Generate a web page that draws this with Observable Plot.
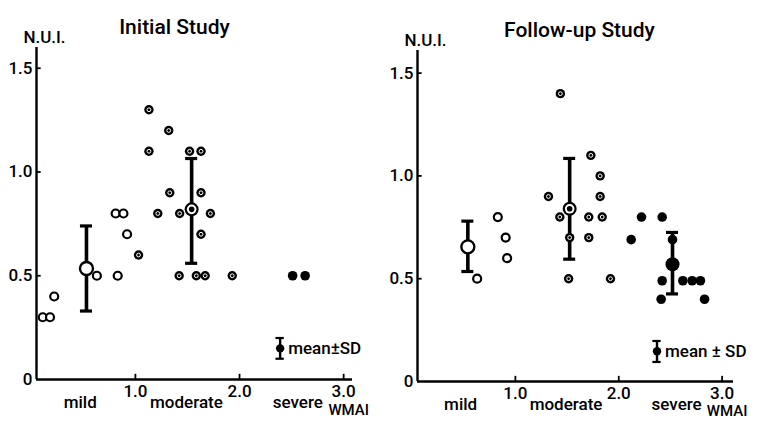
<!DOCTYPE html>
<html>
<head>
<meta charset="utf-8">
<script src="https://cdn.jsdelivr.net/npm/d3@7"></script>
<script src="https://cdn.jsdelivr.net/npm/@observablehq/plot@0.6"></script>
<style>
  html, body { margin: 0; padding: 0; background: #fff; }
  #wrap { display: flex; width: 761px; height: 421px; }
  svg { font-family: Roboto, "DejaVu Sans", sans-serif; }
</style>
</head>
<body>
<div id="wrap"></div>
<script>
// ---------- data ----------
const panelTitles = ["Initial Study", "Follow-up Study"];
const yLabel = "N.U.I.";
const xTicks = [1, 2, 3];
const yTicks = [0, 0.5, 1.0, 1.5];
const yTickLabels = ["0", "0.5", "1.0", "1.5"];
const categoryNames = ["mild", "moderate", "severe"];
const categoryX = [0.47, 1.49, 2.56];
const xAxisName = "WMAI";
const legendTexts = ["mean±SD", "mean ± SD"];

// Initial study: WMAI (x) and NUI (y)
const initMildX = [0.11, 0.18, 0.22, 0.63, 0.81, 0.885, 0.83, 0.92];
const initMildY = [0.30, 0.30, 0.40, 0.50, 0.80, 0.80, 0.50, 0.70];
const initModX = [1.03, 1.13, 1.32, 1.13, 1.52, 1.63, 1.33, 1.63, 1.215, 1.425, 1.72, 1.63, 1.42, 1.585, 1.67, 1.93];
const initModY = [0.60, 1.30, 1.20, 1.10, 1.10, 1.10, 0.90, 0.90, 0.80, 0.80, 0.80, 0.70, 0.50, 0.50, 0.50, 0.50];
const initSevX = [2.51, 2.63];
const initSevY = [0.50, 0.50];
const initMeanGroup = ["mild", "moderate"];
const initMeanX = [0.53, 1.54];
const initMean = [0.535, 0.82];
const initLo = [0.33, 0.56];
const initHi = [0.74, 1.065];

// Follow-up study
const folMildX = [0.63, 0.83, 0.906, 0.92];
const folMildY = [0.50, 0.80, 0.70, 0.60];
const folModX = [1.435, 1.73, 1.82, 1.32, 1.82, 1.43, 1.71, 1.84, 1.525, 1.71, 1.515, 1.92];
const folModY = [1.40, 1.10, 1.00, 0.90, 0.90, 0.80, 0.80, 0.80, 0.70, 0.70, 0.50, 0.50];
const folSevX = [2.22, 2.42, 2.12, 2.52, 2.42, 2.62, 2.71, 2.79, 2.41, 2.83];
const folSevY = [0.80, 0.80, 0.69, 0.69, 0.49, 0.49, 0.49, 0.49, 0.40, 0.40];
const folMeanGroup = ["mild", "moderate", "severe"];
const folMeanX = [0.54, 1.525, 2.52];
const folMean = [0.655, 0.84, 0.57];
const folLo = [0.535, 0.595, 0.426];
const folHi = [0.78, 1.085, 0.725];

// legend key (mean ± SD) in data units
const legendX = [2.39, 2.37];
const legendMean = [0.15, 0.147];
const legendLo = [0.10, 0.095];
const legendHi = [0.20, 0.197];

// ---------- helpers ----------
const zip = (xs, ys) => xs.map((x, i) => ({x, y: ys[i]}));

function panel(o) {
  const {title, mild, mod, sev, means, legend, legendText, width, marginLeft, marginRight,
         marginTop, marginBottom, xDomain, yDomain, titleDx, titleDy, nuiDy, wmaiDy} = o;
  const F = "Roboto, 'DejaVu Sans', sans-serif";
  const x0 = xDomain[0];
  const T = {fontSize: 17, fontWeight: 500};
  return Plot.plot({
    width, height: 421,
    marginLeft, marginRight, marginTop, marginBottom,
    x: {domain: xDomain, axis: null},
    y: {domain: yDomain, axis: null},
    style: {fontFamily: F, color: "#000", background: "#fff", overflow: "visible"},
    marks: [
      // axis lines
      Plot.ruleY([0], {x1: x0, x2: xDomain[1], stroke: "#000", strokeWidth: 2.4}),
      Plot.ruleX([x0], {y1: 0, y2: yDomain[1], stroke: "#000", strokeWidth: 2.4}),
      // x ticks (pointing up)
      Plot.ruleX(xTicks, {x: d => d, y1: 0, y2: 0.025, stroke: "#000", strokeWidth: 1.8}),
      Plot.text(xTicks, {x: d => d, y: 0, text: d => d.toFixed(1), dy: 12, ...T, letterSpacing: "-0.5px"}),
      // y ticks (pointing right)
      Plot.ruleY(yTicks.slice(1), {y: d => d, x1: x0, x2: x0 + 0.045, stroke: "#000", strokeWidth: 1.8}),
      Plot.text(yTicks, {x: x0, y: d => d, text: (d, i) => yTickLabels[i], dx: -4, ...T, letterSpacing: "-0.5px", textAnchor: "end"}),
      // category labels
      Plot.text(categoryNames, {x: (d, i) => categoryX[i], y: 0, text: d => d, dy: 23, ...T, letterSpacing: "0.8px"}),
      Plot.text([xAxisName], {x: 3.02, y: 0, text: d => d, dy: wmaiDy, fontSize: 15, fontWeight: 500, dx: 3}),
      // y label and title
      Plot.text([yLabel], {x: x0, y: yDomain[1], text: d => d, dy: nuiDy, dx: 8, ...T, letterSpacing: "-0.8px"}),
      Plot.text([title], {frameAnchor: "top", text: d => d, dx: titleDx, dy: titleDy, fontSize: 21, fontWeight: 500, letterSpacing: "1px"}),
      // error bars
      Plot.ruleX(means, {x: "x", y1: "lo", y2: "hi", stroke: "#000", strokeWidth: 3.6}),
      Plot.ruleY(means, {y: "lo", x1: d => d.x - 0.058, x2: d => d.x + 0.058, stroke: "#000", strokeWidth: 3.2}),
      Plot.ruleY(means, {y: "hi", x1: d => d.x - 0.058, x2: d => d.x + 0.058, stroke: "#000", strokeWidth: 3.2}),
      // mild: open circles
      Plot.dot(mild, {x: "x", y: "y", r: 4, fill: "#fff", stroke: "#000", strokeWidth: 2.2}),
      // moderate: filled with small white ring
      Plot.dot(mod, {x: "x", y: "y", r: 4.7, fill: "#000", stroke: "none"}),
      Plot.dot(mod, {x: "x", y: "y", r: 1.9, fill: "none", stroke: "#fff", strokeWidth: 1}),
      // severe: filled
      Plot.dot(sev, {x: "x", y: "y", r: 4.8, fill: "#000", stroke: "none"}),
      // means
      Plot.dot(means.filter(d => d.g === "mild"), {x: "x", y: "m", r: 6.5, fill: "#fff", stroke: "#000", strokeWidth: 2.4}),
      Plot.dot(means.filter(d => d.g === "moderate"), {x: "x", y: "m", r: 7, fill: "#000"}),
      Plot.dot(means.filter(d => d.g === "moderate"), {x: "x", y: "m", r: 4.8, fill: "#fff"}),
      Plot.dot(means.filter(d => d.g === "moderate"), {x: "x", y: "m", r: 2.8, fill: "#000"}),
      Plot.dot(means.filter(d => d.g === "severe"), {x: "x", y: "m", r: 7, fill: "#000"}),
      // legend key
      Plot.ruleX([legend], {x: "x", y1: "lo", y2: "hi", stroke: "#000", strokeWidth: 2.4}),
      Plot.ruleY([legend], {y: "lo", x1: d => d.x - 0.04, x2: d => d.x + 0.04, stroke: "#000", strokeWidth: 2.2}),
      Plot.ruleY([legend], {y: "hi", x1: d => d.x - 0.04, x2: d => d.x + 0.04, stroke: "#000", strokeWidth: 2.2}),
      Plot.dot([legend], {x: "x", y: "m", r: 4.2, fill: "#000"}),
      Plot.text([legend], {x: "x", y: "m", text: () => legendText, dx: 8, textAnchor: "start", ...T, letterSpacing: "0.3px"})
    ]
  });
}

const mkMeans = (g, x, m, lo, hi) => g.map((gg, i) => ({g: gg, x: x[i], m: m[i], lo: lo[i], hi: hi[i]}));
const mkLegend = i => ({x: legendX[i], m: legendMean[i], lo: legendLo[i], hi: legendHi[i]});

const left = panel({
  title: panelTitles[0],
  mild: zip(initMildX, initMildY), mod: zip(initModX, initModY), sev: zip(initSevX, initSevY),
  means: mkMeans(initMeanGroup, initMeanX, initMean, initLo, initHi),
  legend: mkLegend(0), legendText: legendTexts[0],
  width: 380, marginLeft: 36, marginRight: 28, marginTop: 47, marginBottom: 42,
  xDomain: [0.05, 3.085], yDomain: [0, 1.6],
  titleDx: -20, titleDy: -28, nuiDy: -10, wmaiDy: 31
});
const right = panel({
  title: panelTitles[1],
  mild: zip(folMildX, folMildY), mod: zip(folModX, folModY), sev: zip(folSevX, folSevY),
  means: mkMeans(folMeanGroup, folMeanX, folMean, folLo, folHi),
  legend: mkLegend(1), legendText: legendTexts[1],
  width: 381, marginLeft: 37, marginRight: 28, marginTop: 50, marginBottom: 40,
  xDomain: [0.053, 3.11], yDomain: [0, 1.61],
  titleDx: 4, titleDy: -28, nuiDy: -10, wmaiDy: 30
});
document.getElementById("wrap").append(left, right);
</script>
</body>
</html>
